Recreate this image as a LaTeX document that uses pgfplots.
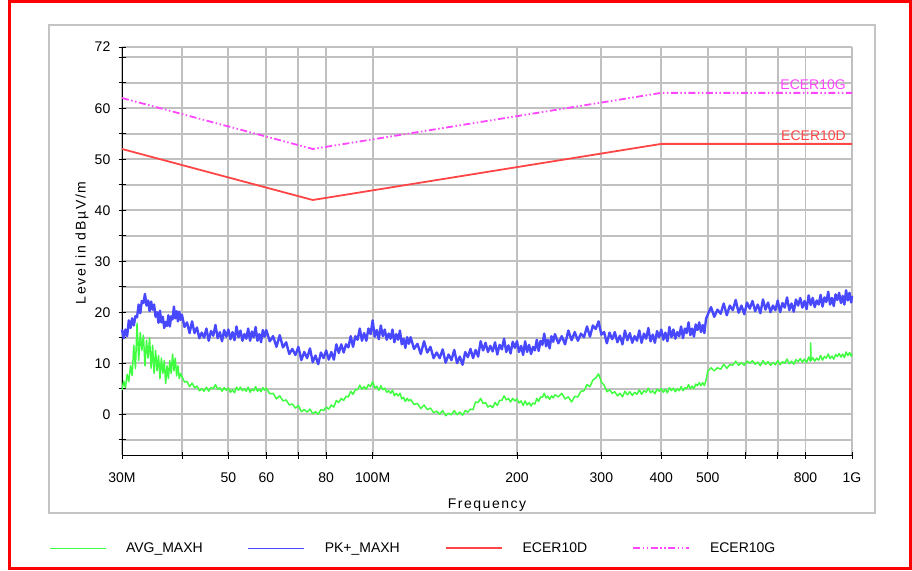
\documentclass[border=0pt]{standalone}
\usepackage{pgfplots}
\pgfplotsset{compat=1.18}
\usepackage{fontspec}
\setmainfont{Liberation Sans}

\definecolor{avgcol}{RGB}{64,255,64}
\definecolor{pkcol}{RGB}{72,72,255}
\definecolor{limD}{RGB}{255,70,70}
\definecolor{limG}{RGB}{255,70,255}
\definecolor{gridcol}{RGB}{192,192,192}
\definecolor{framecol}{RGB}{196,196,196}

\begin{document}
\begin{tikzpicture}[font=\fontsize{14}{16.8}\selectfont]
\useasboundingbox (0,0) rectangle (912pt,570pt);
% outer frame and plot frame
\draw[red, line width=3pt] (9.5pt,1.5pt) rectangle (910.5pt,568.5pt);
\draw[framecol, line width=1.2pt] (49pt,57pt) rectangle (875pt,545pt);
% horizontal grid every 5 dB (axis spans 408pt for 80 dB, origin at 115pt)
\foreach \v in {-5,0,5,10,15,20,25,30,35,40,45,50,55,60,65,70,72}
  \draw[gridcol, line width=1.8pt] (122pt,{115pt+(\v+8)*5.1pt}) -- (852pt,{115pt+(\v+8)*5.1pt});

\begin{axis}[
  at={(122pt,115pt)}, anchor=south west,
  scale only axis, width=730pt, height=408pt,
  xmode=log, xmin=30, xmax=1000,
  ymin=-8, ymax=72,
  axis x line*=bottom, axis y line*=left,
  axis line style={black, line width=0.8pt},
  xtick={30,40,50,60,70,80,100,200,300,400,500,600,700,800,1000},
  xticklabels={30M,,50,60,,80,100M,200,300,400,500,,,800,1G},
  minor xtick={},
  ytick={0,10,20,30,40,50,60,72},
  yticklabels={0,10,20,30,40,50,60,72},
  minor ytick={-5,5,15,25,35,45,55,65,70},
  tick align=center,
  major tick length=7pt, minor tick length=7pt,
  tick style={black, line width=0.8pt},
  xmajorgrids=true, xminorgrids=false,
  ymajorgrids=false, yminorgrids=false,
  major grid style={draw=gridcol, line width=1.8pt},
  xticklabel style={anchor=center, yshift=-19pt, inner sep=0pt},
  yticklabel style={anchor=east, xshift=-8pt, inner sep=0pt},
  xlabel={\addfontfeature{LetterSpace=11}Frequency},
  ylabel={\addfontfeature{LetterSpace=12}Level in dBµV/m},
  xlabel style={at={(axis description cs:0.5,-0.1225)}, anchor=center},
  ylabel style={at={(axis description cs:-0.0548,0.52)}, anchor=center},
  legend columns=4,
  legend style={at={(-0.1,-0.228)}, anchor=west, draw=none, fill=none,
    inner sep=0pt, outer sep=0pt, nodes={inner sep=0pt},
    /tikz/every odd column/.append style={column sep=20pt},
    /tikz/every even column/.append style={column sep=45pt}},
  legend image code/.code={\draw[#1] (0pt,0pt) -- (56pt,0pt);},
  clip=false,
]

% average detector, max hold
\addplot[avgcol, line width=1.5pt, line join=round, legend image post style={line width=1pt}] coordinates {
(30,4.8)(30.25,6.5)(30.5,5.2)(30.75,7.8)(31,6.4)(31.25,9.5)(31.5,7.6)(31.75,13.5)
(32,9.0)(32.25,17.8)(32.5,10.5)(32.75,16.0)(33,12.5)(33.25,15.5)(33.5,9.5)(33.75,14.5)
(34,11.0)(34.25,15.0)(34.5,9.0)(34.75,13.5)(35,8.0)(35.25,12.5)(35.5,8.5)(35.75,11.5)
(36,7.0)(36.25,11.0)(36.5,8.0)(36.75,10.5)(37,6.0)(37.25,9.5)(37.5,7.0)(37.75,10.5)
(38,8.0)(38.25,11.8)(38.5,8.5)(38.75,11.0)(39,7.5)(39.25,9.5)(39.5,7.0)(39.75,8.0)
(40,7.4)(40.5,6.3)(41,6.4)(41.5,5.4)(42,6.1)(42.5,5.2)(43,5.5)(43.5,4.6)(44,5.0)(44.5,4.5)
(45,5.3)(45.5,4.5)(46,5.2)(46.5,5.0)(47,5.8)(47.5,4.9)(48,5.2)(48.5,4.5)(49,5.2)(49.5,4.7)
(50,5.1)(50.5,4.3)(51,4.8)(51.5,4.2)(52,5.3)(52.5,4.7)(53,5.3)(53.5,4.6)(54,5.0)(54.5,4.5)
(55,5.3)(55.5,4.3)(56,4.9)(56.5,4.6)(57,5.4)(57.5,4.5)(58,4.9)(58.5,4.4)(59,5.2)(59.5,4.7)
(60,5.1)(61,4.0)(62,4.1)(63,3.0)(64,3.6)(65,2.6)(66,2.8)(67,1.8)(68,2.0)(69,1.2)
(70,1.7)(71,0.5)(72,0.9)(73,0.4)(74,1.0)(75,0.1)(76,0.5)(77,0.0)(78,0.9)(79,0.7)
(80,1.4)(81,1.0)(82,1.8)(83,1.4)(84,2.7)(85,2.3)(86,3.1)(87,2.7)(88,3.5)(89,3.4)
(90,4.5)(91,3.9)(92,4.8)(93,4.8)(94,5.7)(95,4.9)(96,5.4)(97,4.9)(98,5.8)(99,5.4)
(100,6.4)(101,5.1)(102,5.5)(103,4.7)(104,5.6)(105,4.8)(106,5.1)(107,4.3)(108,4.6)(109,4.1)
(110,4.7)(111,3.6)(112,4.1)(113,3.6)(114,4.1)(115,3.0)(116,3.3)(117,2.5)(118,3.1)(119,2.6)
(120,2.9)(122,1.9)(124,2.1)(126,1.1)(128,1.8)(130,0.9)(132,1.2)(134,0.3)(136,0.6)(138,0.0)
(140,0.7)(142,-0.3)(144,0.2)(146,-0.1)(148,0.7)(150,-0.1)(152,0.4)(154,-0.2)(156,0.7)(158,0.4)
(160,1.0)(162,0.9)(164,2.4)(166,2.3)(168,3.1)(170,2.1)(172,2.3)(174,1.4)(176,1.7)(178,1.3)
(180,2.3)(182,1.7)(184,2.7)(186,2.7)(188,3.6)(190,2.8)(192,3.1)(194,2.4)(196,3.1)(198,2.6)
(200,3.0)(202,2.2)(204,2.6)(206,1.7)(208,2.6)(210,1.8)(212,2.3)(214,1.6)(216,2.2)(218,2.0)
(220,3.1)(222,2.5)(224,3.4)(226,3.3)(228,4.1)(230,3.2)(232,3.5)(234,2.9)(236,3.6)(238,3.2)
(240,3.8)(244,3.4)(248,4.1)(252,3.0)(256,3.4)(260,2.4)(264,3.5)(268,3.4)(272,4.5)(276,4.6)
(280,5.8)(284,5.4)(288,6.7)(292,7.1)(296,7.9)(300,6.3)(304,5.7)(308,4.4)(312,4.8)(316,4.1)
(320,4.4)(324,3.6)(328,4.1)(332,3.4)(336,4.5)(340,3.8)(344,4.4)(348,3.7)(352,4.3)(356,3.9)
(360,4.8)(364,3.9)(368,4.6)(372,4.3)(376,5.1)(380,4.2)(384,4.6)(388,4.0)(392,4.9)(396,4.5)
(400,5.0)(404,4.3)(408,4.9)(412,4.2)(416,5.2)(420,4.6)(424,5.1)(428,4.4)(432,5.0)(436,4.6)
(440,5.4)(444,4.6)(448,5.2)(452,5.0)(456,5.8)(460,5.0)(464,5.5)(468,5.0)(472,5.9)(476,5.6)
(480,6.2)(484,5.6)(488,6.2)(492,5.6)(496,6.7)
(500,8.4)(508,9.1)(516,8.5)(524,9.1)(532,8.8)(540,9.8)(548,9.0)(556,9.7)(564,9.6)(572,10.4)
(580,9.6)(588,10.1)(596,9.6)(604,10.4)(612,10.0)(620,10.5)(628,9.8)(636,10.2)(644,9.5)(652,10.5)
(660,9.8)(668,10.3)(676,9.6)(684,10.1)(692,9.7)(700,10.5)(708,9.7)(716,10.3)(724,10.0)(732,10.8)
(740,9.9)(748,10.4)(756,9.8)(764,10.7)(772,10.3)(780,10.9)(788,10.2)(796,10.8)(804,10.1)(812,11.2)
(819,10.4)(820,14.0)(821,10.5)
(828,11.1)(836,10.4)(844,11.0)(852,10.6)(860,11.5)(868,10.6)(876,11.3)(884,11.0)(892,11.8)(900,10.9)
(908,11.4)(916,10.8)(924,11.7)(932,11.3)(940,11.9)(948,11.2)(956,11.8)(964,11.1)(972,12.2)(980,11.5)
(988,12.1)(996,11.4)(1000,11.9)
};
\addlegendentry{AVG\_MAXH}

% positive peak detector, max hold
\addplot[pkcol, line width=2.4pt, line join=round, legend image post style={line width=1pt}] coordinates {
(30,16.6)(30.25,14.9)(30.5,16.6)(30.75,15.3)(31,18.4)(31.25,16.9)(31.5,18.8)(31.75,17.4)
(32,19.2)(32.25,19.0)(32.5,21.5)(32.75,19.8)(33,22.2)(33.25,21.8)(33.5,23.6)(33.75,21.3)
(34,22.3)(34.25,20.2)(34.5,22.1)(34.75,20.5)(35,21.5)(35.25,19.1)(35.5,20.0)(35.75,17.9)
(36,20.3)(36.25,18.0)(36.5,19.1)(36.75,16.9)(37,18.1)(37.25,17.3)(37.5,19.4)(37.75,17.2)
(38,19.2)(38.25,18.6)(38.5,21.1)(38.75,18.8)(39,20.2)(39.25,18.2)(39.5,20.1)(39.75,18.5)
(40,19.5)(40.5,17.1)(41,18.0)(41.5,15.9)(42,18.2)(42.5,15.9)(43,17.0)(43.5,14.9)(44,16.0)(44.5,15.0)
(45,16.8)(45.5,14.4)(46,16.3)(46.5,15.4)(47,17.5)(47.5,14.9)(48,16.1)(48.5,14.3)(49,16.5)(49.5,15.2)
(50,16.6)(50.5,14.7)(51,16.1)(51.5,14.5)(52,17.2)(52.5,15.1)(53,16.4)(53.5,14.4)(54,15.7)(54.5,14.8)
(55,16.8)(55.5,14.4)(56,16.2)(56.5,15.1)(57,17.1)(57.5,14.4)(58,15.7)(58.5,14.1)(59,16.5)(59.5,15.2)
(60,16.5)(61,14.3)(62,15.3)(63,13.2)(64,15.5)(65,13.1)(66,14.1)(67,11.8)(68,12.8)(69,11.6)
(70,13.2)(71,10.6)(72,12.2)(73,11.0)(74,12.9)(75,10.2)(76,11.5)(77,9.8)(78,12.1)(79,11.0)
(80,12.5)(81,10.7)(82,12.2)(83,10.7)(84,13.7)(85,12.0)(86,13.7)(87,12.1)(88,13.7)(89,13.1)
(90,15.3)(91,13.2)(92,15.3)(93,14.6)(94,16.8)(95,14.4)(96,15.9)(97,14.4)(98,16.8)(99,15.7)
(100,18.4)(101,15.2)(102,16.5)(103,14.7)(104,17.4)(105,15.3)(106,16.6)(107,14.6)(108,15.8)(109,14.8)
(110,16.6)(111,14.1)(112,15.7)(113,14.6)(114,16.4)(115,13.7)(116,14.8)(117,13.0)(118,15.1)(119,13.8)
(120,15.1)(122,12.8)(124,13.8)(126,11.8)(128,14.3)(130,12.1)(132,13.2)(134,11.0)(136,12.1)(138,11.0)
(140,12.7)(142,10.1)(144,11.7)(146,10.6)(148,12.6)(150,10.0)(152,11.3)(154,9.7)(156,12.2)(158,11.2)
(160,12.8)(162,11.0)(164,12.6)(166,11.3)(168,14.3)(170,12.5)(172,14.0)(174,12.2)(176,13.4)(178,12.3)
(180,14.1)(182,11.7)(184,13.6)(186,12.7)(188,14.8)(190,12.2)(192,13.5)(194,11.9)(196,14.2)(198,13.0)
(200,14.3)(202,12.2)(204,13.4)(206,11.6)(208,14.3)(210,12.2)(212,13.6)(214,11.8)(216,13.2)(218,12.5)
(220,14.6)(222,12.4)(224,14.4)(226,13.6)(228,15.8)(230,13.3)(232,14.6)(234,12.9)(236,15.3)(238,14.2)
(240,15.7)(244,13.9)(248,15.3)(252,13.7)(256,16.4)(260,14.5)(264,16.1)(268,14.4)(272,15.8)(276,15.1)
(280,17.2)(284,15.2)(288,17.4)(292,16.7)(296,18.2)(300,15.6)(304,16.1)(308,13.9)(312,16.0)(316,14.7)
(320,16.1)(324,14.1)(328,15.4)(332,13.7)(336,16.4)(340,14.5)(344,15.9)(348,14.0)(352,15.3)(356,14.4)
(360,16.4)(364,14.0)(368,15.8)(372,14.8)(376,16.9)(380,14.3)(384,15.6)(388,14.0)(392,16.3)(396,15.1)
(400,16.6)(404,14.6)(408,16.0)(412,14.3)(416,17.1)(420,15.1)(424,16.6)(428,14.8)(432,16.1)(436,15.3)
(440,17.2)(444,14.9)(448,16.8)(452,15.9)(456,18.0)(460,15.5)(464,16.8)(468,15.2)(472,17.6)(476,16.5)
(480,18.0)(484,16.1)(488,17.5)(492,15.9)(496,18.7)
(500,19.5)(508,21.0)(516,19.1)(524,20.5)(532,19.7)(540,21.7)(548,19.4)(556,21.3)(564,20.4)(572,22.4)
(580,19.9)(588,21.3)(596,19.6)(604,21.9)(612,20.7)(620,22.2)(628,20.2)(636,21.5)(644,19.8)(652,22.5)
(660,20.5)(668,21.9)(676,20.0)(684,21.3)(692,20.4)(700,22.3)(708,20.0)(716,21.8)(724,20.9)(732,22.9)
(740,20.4)(748,21.7)(756,20.1)(764,22.5)(772,21.3)(780,22.8)(788,20.9)(796,22.2)(804,20.6)(812,23.3)
(820,21.4)(828,22.8)(836,21.0)(844,22.3)(852,21.5)(860,23.4)(868,21.1)(876,22.9)(884,22.0)(892,24.0)
(900,21.5)(908,22.8)(916,21.2)(924,23.5)(932,22.4)(940,23.8)(948,21.8)(956,23.2)(964,21.5)(972,24.3)
(980,22.3)(988,23.8)(996,21.9)(1000,23.2)
};
\addlegendentry{PK+\_MAXH}

% limit lines
\addplot[limD, line width=1.8pt] coordinates {(30,52) (75,42) (400,53) (1000,53)};
\addlegendentry{ECER10D}
\addplot[limG, line width=1.8pt, dash pattern=on 7pt off 2.5pt on 1.5pt off 2.5pt on 1.5pt off 2.5pt] coordinates {(30,62) (75,52) (400,63) (1000,63)};
\addlegendentry{ECER10G}

\node[limG, anchor=south east, inner sep=0pt] at (axis cs:1000,63) [xshift=-6pt, yshift=3pt] {ECER10G};
\node[limD, anchor=south east, inner sep=0pt] at (axis cs:1000,53) [xshift=-6pt, yshift=3pt] {ECER10D};
\end{axis}
\end{tikzpicture}
\end{document}
